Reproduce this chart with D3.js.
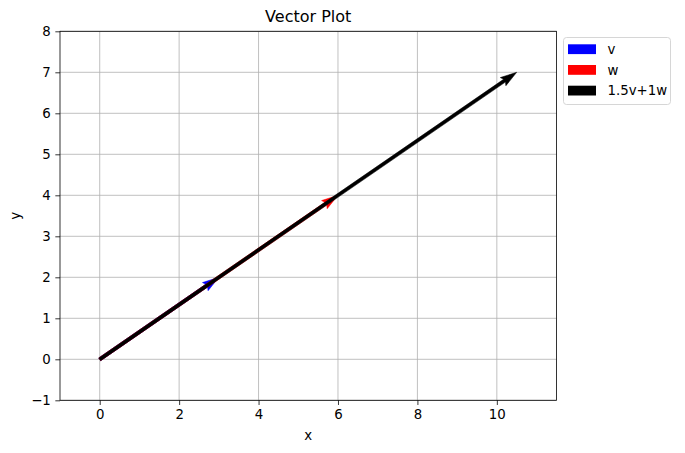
<!DOCTYPE html>
<html><head><meta charset="utf-8">
<script src="https://cdn.jsdelivr.net/npm/d3@7"></script>
<style>body{margin:0;background:#fff;} text{font-family:"DejaVu Sans",sans-serif;}</style>
</head><body><svg id="c" width="685" height="453"></svg>
<script>
const vectorNames = ["v", "w", "1.5v+1w"];
const vectorX = [3, 6, 10.5];
const vectorY = [2, 4, 7];
const vectorColors = ["#0000ff", "#ff0000", "#000000"];
const xTicks = [0, 2, 4, 6, 8, 10];
const yTicks = [-1, 0, 1, 2, 3, 4, 5, 6, 7, 8];

const svg = d3.select("#c");
const L = 60, R = 556.4, T = 31.3, B = 400.3;
const x = d3.scaleLinear().domain([-1, 11.5]).range([L, R]);
const y = d3.scaleLinear().domain([-1, 8]).range([B, T]);

// grid
const g = svg.append("g");
g.selectAll(".gx").data(xTicks).join("line")
  .attr("x1", d => x(d)).attr("x2", d => x(d)).attr("y1", T).attr("y2", B)
  .attr("stroke", "#b0b0b0").attr("stroke-width", 0.8);
g.selectAll(".gy").data(yTicks).join("line")
  .attr("y1", d => y(d)).attr("y2", d => y(d)).attr("x1", L).attr("x2", R)
  .attr("stroke", "#b0b0b0").attr("stroke-width", 0.8);

// arrows (matplotlib quiver style)
const w = 3.3;
function arrowPath(x0, y0, x1, y1) {
  const dx = x1 - x0, dy = y1 - y0;
  const len = Math.hypot(dx, dy);
  const ux = dx / len, uy = dy / len, nx = -uy, ny = ux;
  const pts = [[0, -0.5], [len / w - 4.5, -0.5], [len / w - 5, -1.5], [len / w, 0],
               [len / w - 5, 1.5], [len / w - 4.5, 0.5], [0, 0.5]];
  return d3.line()(pts.map(([a, b]) => [x0 + ux * a * w + nx * b * w, y0 + uy * a * w + ny * b * w])) + "Z";
}
const arrows = svg.append("g");
vectorNames.forEach((n, i) => {
  arrows.append("path")
    .attr("d", arrowPath(x(0), y(0), x(vectorX[i]), y(vectorY[i])))
    .attr("fill", vectorColors[i]).attr("stroke", vectorColors[i]).attr("stroke-width", 0.5);
});

// axes
const xAxis = d3.axisBottom(x).tickValues(xTicks).tickSize(4.67).tickPadding(4.5).tickFormat(d3.format("d"));
const yAxis = d3.axisLeft(y).tickValues(yTicks).tickSize(4.67).tickPadding(4.5)
  .tickFormat(d => d < 0 ? "\u2212" + Math.abs(d) : d);
const gx = svg.append("g").attr("transform", `translate(0,${B})`).call(xAxis);
const gy = svg.append("g").attr("transform", `translate(${L},0)`).call(yAxis);
[gx, gy].forEach(a => {
  a.select(".domain").remove();
  a.selectAll("text").attr("font-size", "13.33px").attr("fill", "#000").attr("font-family", "DejaVu Sans");
  a.selectAll("line").attr("stroke", "#000").attr("stroke-width", 0.8);
});
svg.append("rect").attr("x", L).attr("y", T).attr("width", R - L).attr("height", B - T)
  .attr("fill", "none").attr("stroke", "#000").attr("stroke-width", 0.8);

// labels
svg.append("text").attr("x", (L + R) / 2).attr("y", 22).attr("text-anchor", "middle")
  .attr("font-size", "16px").text("Vector Plot");
svg.append("text").attr("x", (L + R) / 2).attr("y", 440).attr("text-anchor", "middle")
  .attr("font-size", "13.33px").text("x");
svg.append("text").attr("transform", `translate(20,${(T + B) / 2}) rotate(-90)`).attr("text-anchor", "middle")
  .attr("font-size", "13.33px").text("y");

// legend
const lg = svg.append("g");
lg.append("rect").attr("x", 563.5).attr("y", 37.5).attr("width", 107).attr("height", 67).attr("rx", 3)
  .attr("fill", "#fff").attr("fill-opacity", 0.8).attr("stroke", "#cccccc").attr("stroke-width", 0.8);
vectorNames.forEach((n, i) => {
  const yy = 44.3 + i * 20.7;
  lg.append("rect").attr("x", 568).attr("y", yy).attr("width", 28).attr("height", 9.8).attr("fill", vectorColors[i]);
  lg.append("text").attr("x", 607.5).attr("y", yy + 9.5).attr("font-size", "13.33px").text(n);
});
</script></body></html>
